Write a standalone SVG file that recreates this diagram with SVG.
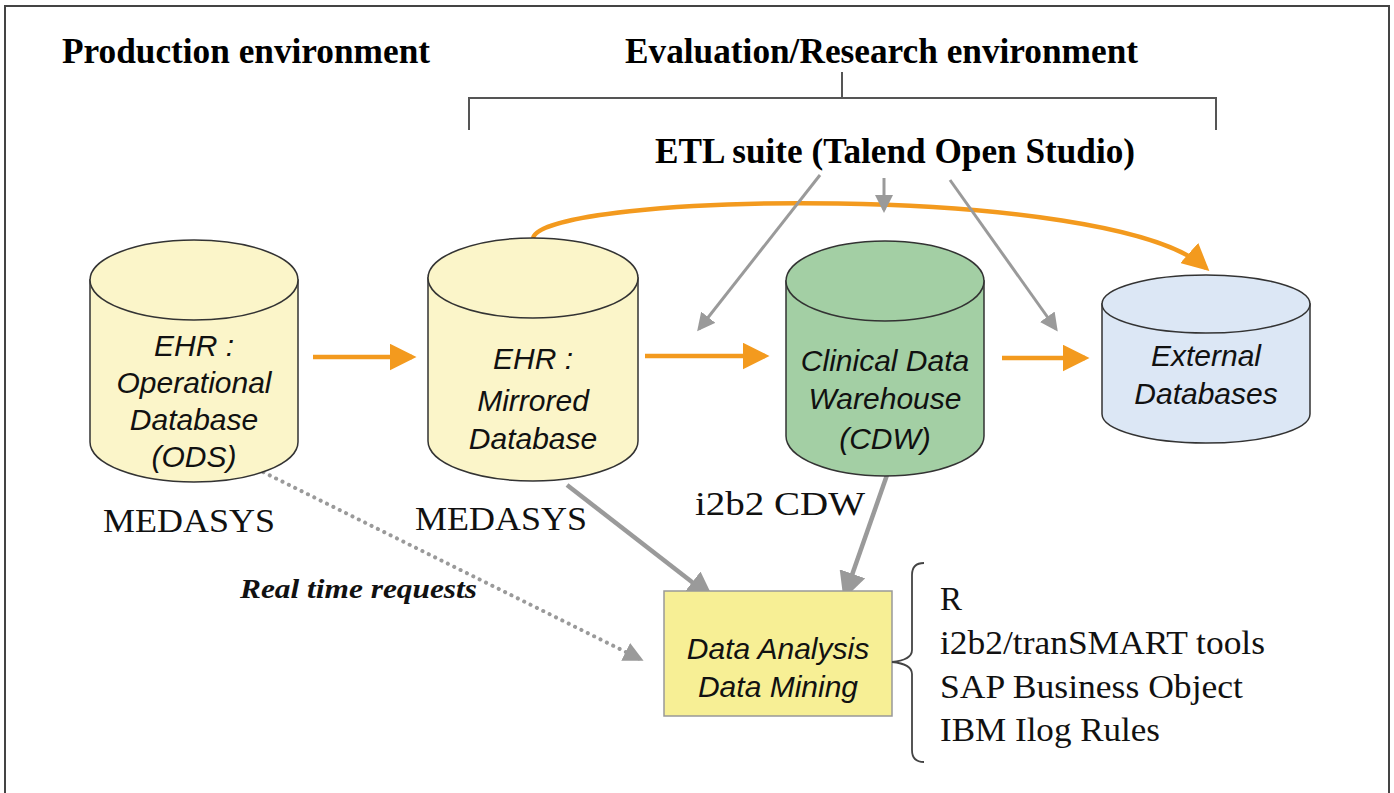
<svg xmlns="http://www.w3.org/2000/svg" width="1394" height="793" viewBox="0 0 1394 793">
<style>
.title{font-family:"Liberation Serif",serif;font-weight:bold;font-size:35px;fill:#000}
.cyl{stroke:#333;stroke-width:1.5}
.lbl{font-family:"Liberation Sans",Arial,sans-serif;font-style:italic;font-size:30px;fill:#111;text-anchor:middle}
.ser{font-family:"Liberation Serif",serif;font-size:33px;fill:#111}
.org{stroke:#F39A1E;stroke-width:4.5;fill:none}
.gry{stroke:#9A9A9A;stroke-width:4.5;fill:none}
.gry2{stroke:#9A9A9A;stroke-width:3;fill:none}
.dot{stroke:#9A9A9A;stroke-width:4;fill:none;stroke-dasharray:0.1 7;stroke-linecap:round}
.frame{stroke:#444;stroke-width:2;fill:none}
</style>
<defs>
<marker id="ao" markerWidth="6" markerHeight="6" refX="5" refY="3" orient="auto" markerUnits="strokeWidth"><path d="M0,0 L6,3 L0,6 Z" fill="#F39A1E"/></marker>
<marker id="ag" markerWidth="6" markerHeight="6" refX="5" refY="3" orient="auto" markerUnits="strokeWidth"><path d="M0,0 L6,3 L0,6 Z" fill="#9A9A9A"/></marker>
<marker id="ag2" markerWidth="6" markerHeight="6" refX="5" refY="3" orient="auto" markerUnits="strokeWidth"><path d="M0,0 L6,3 L0,6 Z" fill="#9A9A9A"/></marker>
<marker id="ad" markerWidth="6" markerHeight="6" refX="4" refY="3" orient="auto" markerUnits="strokeWidth"><path d="M0,0.5 L5,3 L0,5.5 Z" fill="#9A9A9A"/></marker>
</defs>
<rect width="1394" height="793" fill="#fff"/>
<path class="frame" d="M5,800 L5,6 L1389,6 L1389,800"/>

<g id="headers">
<text class="title" x="62" y="63" textLength="368" lengthAdjust="spacingAndGlyphs">Production environment</text>
<text class="title" x="625" y="63" textLength="513" lengthAdjust="spacingAndGlyphs">Evaluation/Research environment</text>
<path d="M842,72 L842,98 M469,130 L469,98 L1216,98 L1216,130" stroke="#555" stroke-width="2" fill="none"/>
</g>

<g id="etl">
<text class="title" x="655" y="163" textLength="480" lengthAdjust="spacingAndGlyphs">ETL suite (Talend Open Studio)</text>
</g>

<g id="connectors">
<path class="org" d="M533,238 C545,192 1110,182 1206,268" marker-end="url(#ao)"/>
<line class="org" x1="313" y1="357" x2="412" y2="357" marker-end="url(#ao)"/>
<line class="org" x1="645" y1="356" x2="765" y2="356" marker-end="url(#ao)"/>
<line class="org" x1="1002" y1="358" x2="1085" y2="358" marker-end="url(#ao)"/>
<line class="gry2" x1="820" y1="175" x2="699" y2="329" marker-end="url(#ag2)"/>
<line class="gry2" x1="884" y1="178" x2="884" y2="210" marker-end="url(#ag2)"/>
<line class="gry2" x1="950" y1="180" x2="1056" y2="329" marker-end="url(#ag2)"/>
<line class="gry" x1="567" y1="485" x2="710" y2="596" marker-end="url(#ag)"/>
<line class="gry" x1="887" y1="475" x2="845" y2="595" marker-end="url(#ag)"/>
<line class="dot" x1="257" y1="469" x2="640" y2="659" marker-end="url(#ad)"/>
</g>

<g id="ods">
<path class="cyl" fill="#FBF5C9" d="M90,280 L90,442 A104,40 0 0 0 298,442 L298,280 Z"/>
<ellipse class="cyl" fill="#FBF5C9" cx="194" cy="280" rx="104" ry="40"/>
<text class="lbl" x="194" y="356">EHR :</text>
<text class="lbl" x="194" y="393">Operational</text>
<text class="lbl" x="194" y="430">Database</text>
<text class="lbl" x="194" y="467">(ODS)</text>
<text class="ser" x="103" y="532" textLength="172" lengthAdjust="spacingAndGlyphs">MEDASYS</text>
</g>

<g id="mirrored">
<path class="cyl" fill="#FBF5C9" d="M428,278 L428,441 A105,40 0 0 0 638,441 L638,278 Z"/>
<ellipse class="cyl" fill="#FBF5C9" cx="533" cy="278" rx="105" ry="40"/>
<text class="lbl" x="533" y="369">EHR :</text>
<text class="lbl" x="533" y="411">Mirrored</text>
<text class="lbl" x="533" y="449">Database</text>
<text class="ser" x="415" y="530" textLength="172" lengthAdjust="spacingAndGlyphs">MEDASYS</text>
</g>

<g id="cdw">
<path class="cyl" fill="#A3CFA4" d="M786,281 L786,436 A99,40 0 0 0 984,436 L984,281 Z"/>
<ellipse class="cyl" fill="#A3CFA4" cx="885" cy="281" rx="99" ry="40"/>
<text class="lbl" x="885" y="371">Clinical Data</text>
<text class="lbl" x="885" y="409">Warehouse</text>
<text class="lbl" x="885" y="449">(CDW)</text>
<text class="ser" x="695" y="515" textLength="170" lengthAdjust="spacingAndGlyphs">i2b2 CDW</text>
</g>

<g id="external">
<path class="cyl" fill="#DCE7F5" d="M1102,304 L1102,414 A104,29 0 0 0 1310,414 L1310,304 Z"/>
<ellipse class="cyl" fill="#DCE7F5" cx="1206" cy="304" rx="104" ry="29"/>
<text class="lbl" x="1206" y="366">External</text>
<text class="lbl" x="1206" y="404">Databases</text>
</g>

<g id="analysis">
<rect x="664" y="591" width="228" height="125" fill="#F7EF95" stroke="#999" stroke-width="1.5"/>
<text class="lbl" x="778" y="659">Data Analysis</text>
<text class="lbl" x="778" y="697">Data Mining</text>
</g>

<g id="rtlabel">
<text x="240" y="598" style="font-family:'Liberation Serif',serif;font-weight:bold;font-style:italic;font-size:28px;fill:#111" textLength="237" lengthAdjust="spacingAndGlyphs">Real time requests</text>
</g>

<g id="tools">
<path d="M924,563 Q912,563 912,575 L912,650 Q912,660 892,662 Q912,664 912,674 L912,750 Q912,762 924,762" stroke="#444" stroke-width="1.8" fill="none"/>
<text class="ser" x="940" y="610">R</text>
<text class="ser" x="940" y="654" textLength="325" lengthAdjust="spacingAndGlyphs">i2b2/tranSMART tools</text>
<text class="ser" x="940" y="698" textLength="303" lengthAdjust="spacingAndGlyphs">SAP Business Object</text>
<text class="ser" x="940" y="741" textLength="220" lengthAdjust="spacingAndGlyphs">IBM Ilog Rules</text>
</g>
</svg>
